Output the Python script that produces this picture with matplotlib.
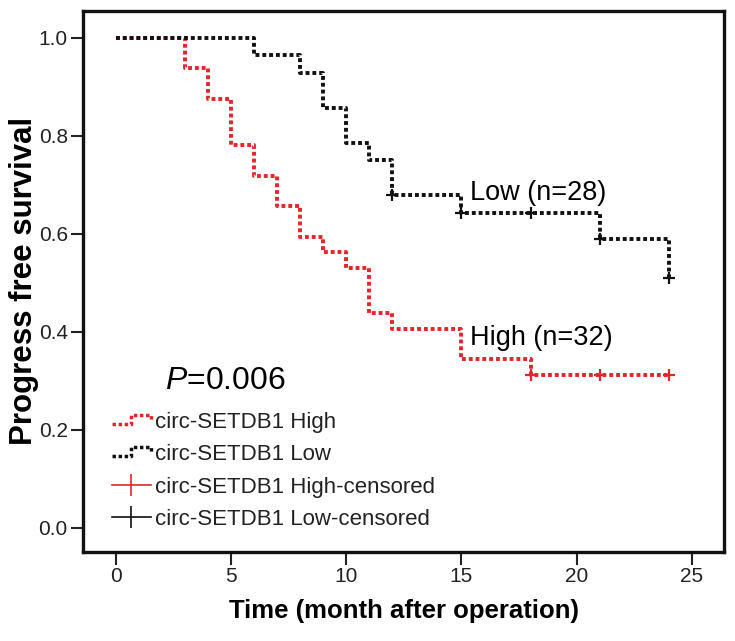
import matplotlib
matplotlib.use("Agg")
import matplotlib.pyplot as plt
from matplotlib.lines import Line2D
from matplotlib.legend_handler import HandlerBase

plt.rcParams['font.family'] = ['Liberation Sans', 'DejaVu Sans']
plt.rcParams['mathtext.fontset'] = 'custom'
plt.rcParams['mathtext.it'] = 'Liberation Sans:italic'
plt.rcParams['mathtext.rm'] = 'Liberation Sans'

# Kaplan-Meier steps
high_t = [0, 3, 4, 5, 6, 7, 8, 9, 10, 11, 12, 15, 18, 24]
high_s = [1.0, 0.9375, 0.875, 0.78125, 0.71875, 0.65625, 0.59375, 0.5625,
          0.53125, 0.4375, 0.40625, 0.34375, 0.3125, 0.3125]
high_cens_t = [18, 21, 24]
high_cens_s = [0.3125, 0.3125, 0.3125]

low_t = [0, 6, 8, 9, 10, 11, 12, 15, 21, 24]
low_s = [1.0, 0.964, 0.929, 0.857, 0.786, 0.75, 0.679, 0.643, 0.59, 0.51]
low_cens_t = [12, 15, 18, 21, 24]
low_cens_s = [0.679, 0.643, 0.643, 0.59, 0.51]

red = '#e3262b'
blk = '#111111'
dots = (0, (1, 0.75))


class StepHandler(HandlerBase):
    # little step icon like the SPSS legend
    def create_artists(self, legend, orig_handle, xdescent, ydescent,
                       width, height, fontsize, trans):
        x0 = -xdescent
        lo = -ydescent + height * 0.3
        hi = -ydescent + height * 0.85
        xs = [x0, x0 + width * 0.5, x0 + width * 0.5, x0 + width, x0 + width]
        ys = [lo, lo, hi, hi, lo + height * 0.15]
        ln = Line2D(xs, ys, color=orig_handle.get_color(), lw=2.5,
                    linestyle=dots, dash_capstyle='butt', transform=trans)
        return [ln]


fig = plt.figure(figsize=(7.35, 6.41), dpi=100)
ax = fig.add_axes([0.113, 0.139, 0.872, 0.844])

ax.step(high_t, high_s, where='post', color=red, lw=2.8, linestyle=dots,
        dash_capstyle='butt')
ax.step(low_t, low_s, where='post', color=blk, lw=2.8, linestyle=dots,
        dash_capstyle='butt')
ax.plot(high_cens_t, high_cens_s, '+', color=red, ms=9, mew=1.6)
ax.plot(low_cens_t, low_cens_s, '+', color=blk, ms=9, mew=1.6)

ax.text(15.36, 0.684, 'Low (n=28)', fontsize=19.5, va='center', ha='left')
ax.text(15.39, 0.388, 'High (n=32)', fontsize=19.5, va='center', ha='left')
ax.text(2.13, 0.30, r'$P$=0.006', fontsize=23, va='center', ha='left')

ax.set_xlim(-1.43, 26.4)
ax.set_ylim(-0.049, 1.055)
ax.set_xticks([0, 5, 10, 15, 20, 25])
ax.set_yticks([0.0, 0.2, 0.4, 0.6, 0.8, 1.0])
ax.set_yticklabels(['0.0', '0.2', '0.4', '0.6', '0.8', '1.0'])
ax.tick_params(labelsize=15, length=9, width=1.5, color='#222222',
               labelcolor='#222222', pad=2)
for s in ax.spines.values():
    s.set_linewidth(2.4)
    s.set_color('#111111')

ax.set_xlabel('Time (month after operation)', fontsize=18.5,
              fontweight='bold', labelpad=9)
ax.set_ylabel('Progress free survival', fontsize=22.5, fontweight='bold',
              labelpad=0)

h1 = Line2D([], [], color=red, lw=2.5, linestyle=dots)
h2 = Line2D([], [], color=blk, lw=2.5, linestyle=dots)
h3 = Line2D([], [], color=red, lw=1.2, marker='|', ms=16, mew=1.2)
h4 = Line2D([], [], color=blk, lw=1.2, marker='|', ms=16, mew=1.2)
leg = ax.legend([h1, h2, h3, h4],
                ['circ-SETDB1 High', 'circ-SETDB1 Low',
                 'circ-SETDB1 High-censored', 'circ-SETDB1 Low-censored'],
                handler_map={h1: StepHandler(), h2: StepHandler()},
                loc='upper left', bbox_to_anchor=(0.045, 0.258),
                frameon=False, fontsize=16, handlelength=1.75,
                handletextpad=0.2, labelspacing=0.5, borderpad=0,
                borderaxespad=0)
for t in leg.get_texts():
    t.set_color('#222222')

fig.savefig('out.png', dpi=100)
